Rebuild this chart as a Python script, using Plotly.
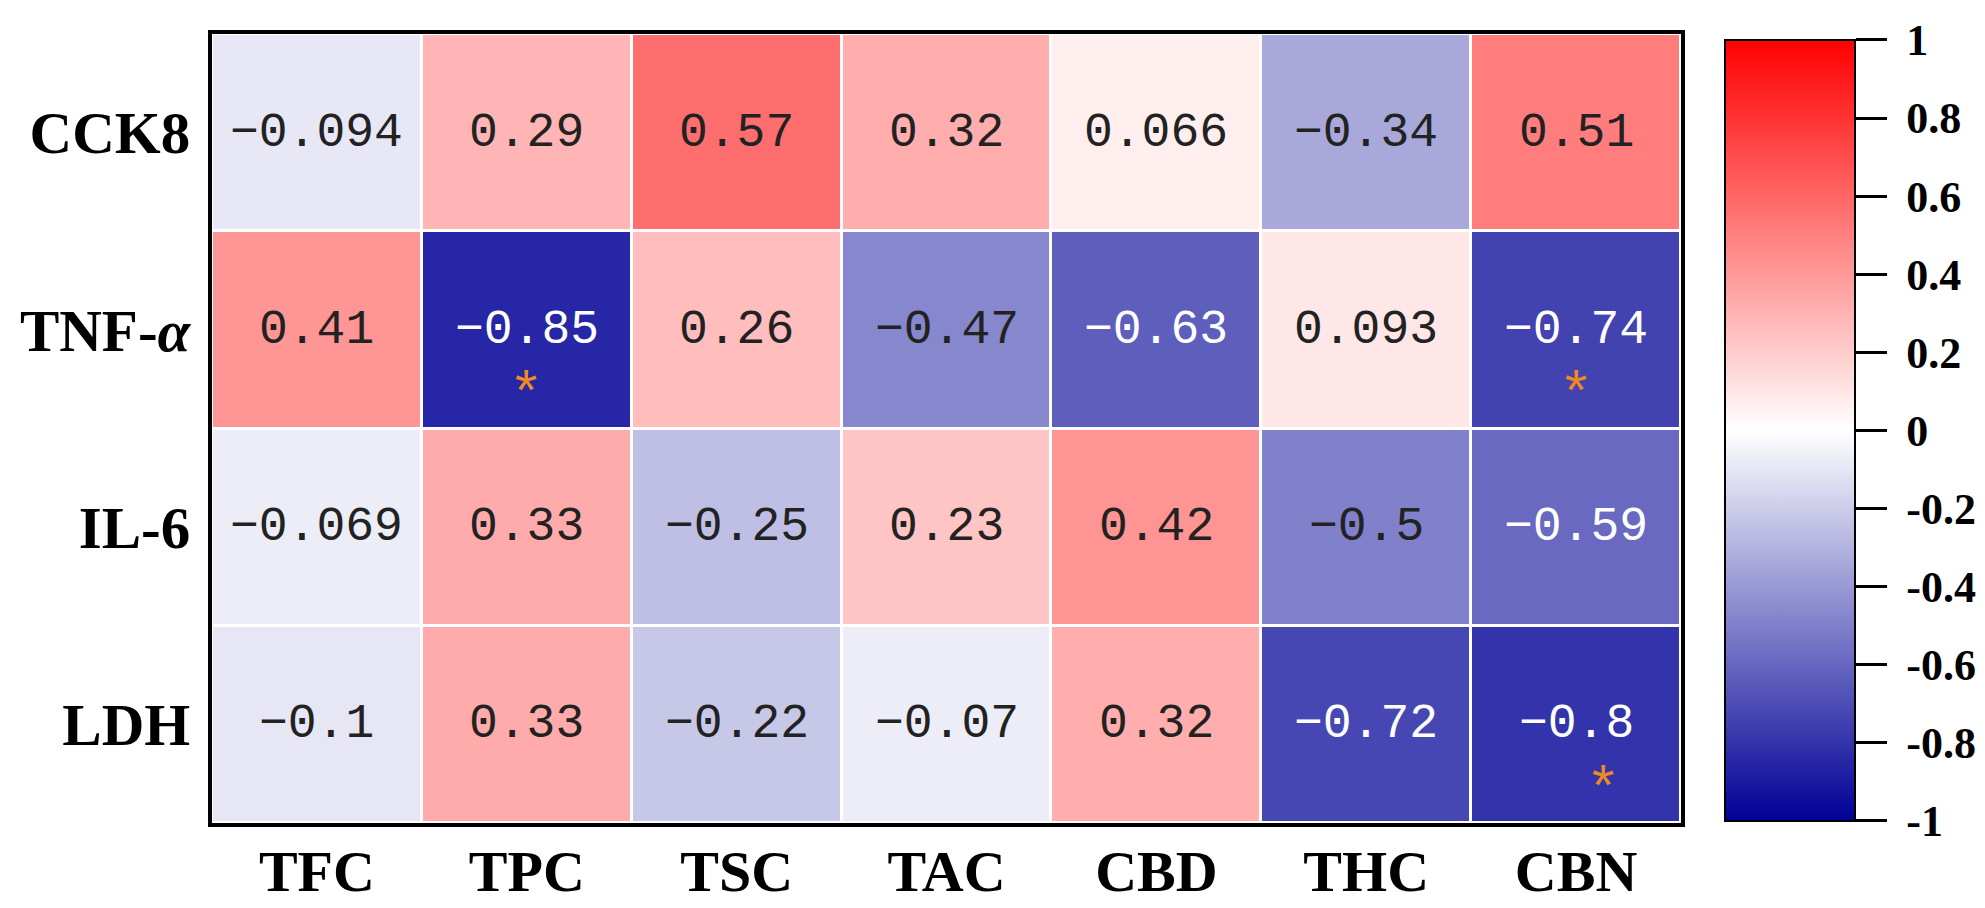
import plotly.graph_objects as go

# correlation matrix: rows = assays, cols = compounds
rows = ["CCK8", "TNF-α", "IL-6", "LDH"]
row_labels = ["CCK8", "TNF-<i>α</i>", "IL-6", "LDH"]
cols = ["TFC", "TPC", "TSC", "TAC", "CBD", "THC", "CBN"]

cck8 = [-0.094, 0.29, 0.57, 0.32, 0.066, -0.34, 0.51]
tnf = [0.41, -0.85, 0.26, -0.47, -0.63, 0.093, -0.74]
il6 = [-0.069, 0.33, -0.25, 0.23, 0.42, -0.5, -0.59]
ldh = [-0.1, 0.33, -0.22, -0.07, 0.32, -0.72, -0.8]

# significant cells (marked with *)
star_rows = ["TNF-α", "TNF-α", "LDH"]
star_cols = ["TPC", "CBN", "CBN"]
star_dx = [0, 0, 27]

cbar_vals = [1, 0.8, 0.6, 0.4, 0.2, 0, -0.2, -0.4, -0.6, -0.8, -1]
cbar_text = ["1", "0.8", "0.6", "0.4", "0.2", "0", "-0.2", "-0.4", "-0.6", "-0.8", "-1"]

z = [cck8, tnf, il6, ldh]


def fmt(v):
    s = ("%g" % v)
    return s.replace("-", "\u2212")


fig = go.Figure()
fig.add_trace(go.Heatmap(
    z=z, x=cols, y=rows,
    zmin=-1, zmax=1,
    colorscale=[[0, "rgb(0,0,150)"], [0.5, "rgb(255,255,255)"], [1, "rgb(255,0,0)"]],
    xgap=3, ygap=3,
    showscale=True,
    colorbar=dict(
        x=1.0298, xanchor="left", xpad=0,
        y=0.4975, yanchor="middle", len=0.99, ypad=0,
        thickness=130, thicknessmode="pixels",
        outlinewidth=2, outlinecolor="black",
        tickmode="array", tickvals=cbar_vals,
        ticktext=["\u00a0" + t for t in cbar_text],
        ticks="outside", ticklen=31, tickwidth=3, tickcolor="black",
        tickfont=dict(family="Liberation Serif", size=44, color="black", weight="bold"),
    ),
    hoverinfo="skip",
))

# cell values as annotations, white text on dark cells
for i, r in enumerate(rows):
    for j, c in enumerate(cols):
        v = z[i][j]
        fig.add_annotation(
            x=c, y=r, text=fmt(v), showarrow=False,
            font=dict(family="Liberation Mono", size=48,
                      color="white" if v < -0.55 else "#222222"),
        )

for r, c, dx in zip(star_rows, star_cols, star_dx):
    fig.add_annotation(
        x=c, y=r, text="*", showarrow=False, xshift=dx, yshift=-60,
        font=dict(family="Liberation Sans", size=58, color="#ee8a26"),
    )

fig.update_xaxes(
    showgrid=False, zeroline=False,
    showline=True, mirror=True, linewidth=4, linecolor="black",
    ticks="", ticklabelstandoff=-6,
    tickfont=dict(family="Liberation Serif", size=58, color="black", weight="bold"),
)
fig.update_yaxes(
    autorange="reversed",
    showgrid=False, zeroline=False,
    showline=True, mirror=True, linewidth=4, linecolor="black",
    ticks="outside", ticklen=6, tickcolor="rgba(0,0,0,0)",
    tickmode="array", tickvals=rows, ticktext=row_labels,
    tickfont=dict(family="Liberation Serif", size=59, color="black", weight="bold"),
)

fig.update_layout(
    width=1985, height=908,
    margin=dict(l=198, r=312, t=26, b=77),
    plot_bgcolor="white", paper_bgcolor="white",
)

fig.write_html("out.html")
